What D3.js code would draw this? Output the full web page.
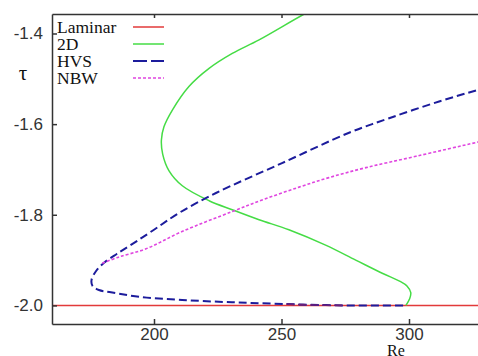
<!DOCTYPE html>
<html>
<head>
<meta charset="utf-8">
<script src="https://cdn.jsdelivr.net/npm/d3@7"></script>
<style>
  body { margin: 0; background: #fff; }
  svg { display: block; }
  .tick text { fill: #333; font-family: 'Liberation Sans', Arial, sans-serif; }
  .serif { font-family: 'Liberation Serif', 'Times New Roman', serif; fill: #111; }
</style>
</head>
<body>
<svg id="chart" width="478" height="356"></svg>
<script>
// series names, in legend order
const names = ['Laminar', '2D', 'HVS', 'NBW'];

// [Re, tau]
const laminar = [[150, -2.0], [340, -2.0]];

const twoD = [
  [298.8, -2.0], [300.2, -1.986], [300.7, -1.972], [299.2, -1.957], [296.5, -1.947],
  [289.5, -1.929], [279.1, -1.9], [267.3, -1.867], [252.9, -1.833], [241.2, -1.811],
  [230.7, -1.789], [221.6, -1.769], [211.1, -1.736], [205.9, -1.703], [203.4, -1.666],
  [202.9, -1.635], [203.9, -1.606], [207.2, -1.569], [213.7, -1.517], [221.6, -1.477],
  [230.7, -1.444], [241.2, -1.414], [258.9, -1.357], [268, -1.33],
];

const hvs = [
  [335.3, -1.511], [326.7, -1.525], [311.8, -1.55], [292.2, -1.587], [276.5, -1.619],
  [250.2, -1.686], [224.3, -1.752], [209.8, -1.796], [200.0, -1.833], [192.2, -1.862],
  [185.5, -1.886], [180.4, -1.906], [177.3, -1.924], [175.5, -1.944], [175.9, -1.957],
  [178.4, -1.966], [183.1, -1.971], [194.1, -1.981], [211.0, -1.988], [230.6, -1.993],
  [251.8, -1.997], [275.3, -2.0], [298.8, -2.0],
];

const nbw = [
  [179.7, -1.907], [186.3, -1.893], [196.9, -1.875], [211.0, -1.837], [230.6, -1.793],
  [243.1, -1.766], [256.9, -1.739], [268.6, -1.718], [283.1, -1.696], [302.7, -1.671],
  [326.7, -1.64], [335.3, -1.629],
];

// short NBW stretch lying on top of the HVS lower branch
const nbwLow = [[251.8, -1.997], [263, -1.999], [275.3, -2.0]];

const xTicks = [200, 250, 300];
const yTicks = [-2.0, -1.8, -1.6, -1.4];

const c = {
  width: 478,
  height: 356,
  left: 52,
  top: 14,
  bottom: 324,
  colors: ['#e23a3a', '#45dc45', '#1c1c9c', '#e046e0'],
  dashes: [null, null, '8,4', '3,2'],
  widths: [1.5, 1.5, 2, 1.6],
};

const svg = d3.select('#chart');

const x = d3.scaleLinear([160, 330], [c.left, c.left + 170 * 2.55]);
const y = d3.scaleLinear([-2.041, -1.357], [c.bottom, c.top]);

svg.append('defs')
  .append('clipPath')
  .attr('id', 'plot-clip')
  .append('rect')
  .attr('x', c.left)
  .attr('y', c.top)
  .attr('width', c.width - c.left)
  .attr('height', c.bottom - c.top);

const line = d3.line()
  .x((d) => x(d[0]))
  .y((d) => y(d[1]))
  .curve(d3.curveCatmullRom.alpha(0.5));

const series = [
  { data: laminar, i: 0 },
  { data: twoD, i: 1 },
  { data: hvs, i: 2 },
  { data: nbw, i: 3 },
  { data: nbwLow, i: 3 },
];

svg.append('g')
  .attr('clip-path', 'url(#plot-clip)')
  .selectAll('path')
  .data(series)
  .join('path')
  .attr('d', (d) => line(d.data))
  .attr('fill', 'none')
  .attr('stroke', (d, k) => (k === 4 ? '#6a1e78' : c.colors[d.i]))
  .attr('stroke-width', (d) => c.widths[d.i])
  .attr('stroke-dasharray', (d, k) => (k === 4 ? '8,4' : c.dashes[d.i]));

// axes, ticks point inward
const xAxis = svg.append('g')
  .attr('transform', `translate(0,${c.bottom})`)
  .call(d3.axisBottom(x).tickValues(xTicks).tickSize(-5).tickSizeOuter(0).tickPadding(4));
xAxis.selectAll('text').style('font-size', '17px');

svg.append('g')
  .attr('transform', `translate(0,${c.top})`)
  .call(d3.axisTop(x).tickValues(xTicks).tickSize(-4).tickSizeOuter(0).tickFormat(''));

const yAxis = svg.append('g')
  .attr('transform', `translate(${c.left},0)`)
  .call(d3.axisLeft(y).tickValues(yTicks).tickSize(-5).tickSizeOuter(0).tickPadding(9)
    .tickFormat((d) => d.toFixed(1)));
yAxis.selectAll('text').style('font-size', '17px');

svg.selectAll('.domain, .tick line').attr('stroke', '#333').attr('stroke-width', 1.5);

// axis titles
svg.append('text')
  .classed('serif', true)
  .attr('x', 23)
  .attr('y', 80)
  .attr('text-anchor', 'middle')
  .attr('font-size', 21)
  .text('τ');

svg.append('text')
  .classed('serif', true)
  .attr('x', 396)
  .attr('y', 356)
  .attr('text-anchor', 'middle')
  .attr('font-size', 16)
  .text('Re');

// legend
const leg = svg.append('g')
  .selectAll('g')
  .data(names)
  .join('g')
  .attr('transform', (d, i) => `translate(57,${33 + i * 17})`);

leg.append('text')
  .classed('serif', true)
  .attr('font-size', 17.5)
  .text((d) => d);

leg.append('line')
  .attr('x1', 76)
  .attr('x2', 107)
  .attr('y1', -6)
  .attr('y2', -6)
  .attr('stroke', (d, i) => c.colors[i])
  .attr('stroke-width', (d, i) => c.widths[i])
  .attr('stroke-dasharray', (d, i) => (i === 2 ? '14,4' : c.dashes[i]));
</script>
</body>
</html>
